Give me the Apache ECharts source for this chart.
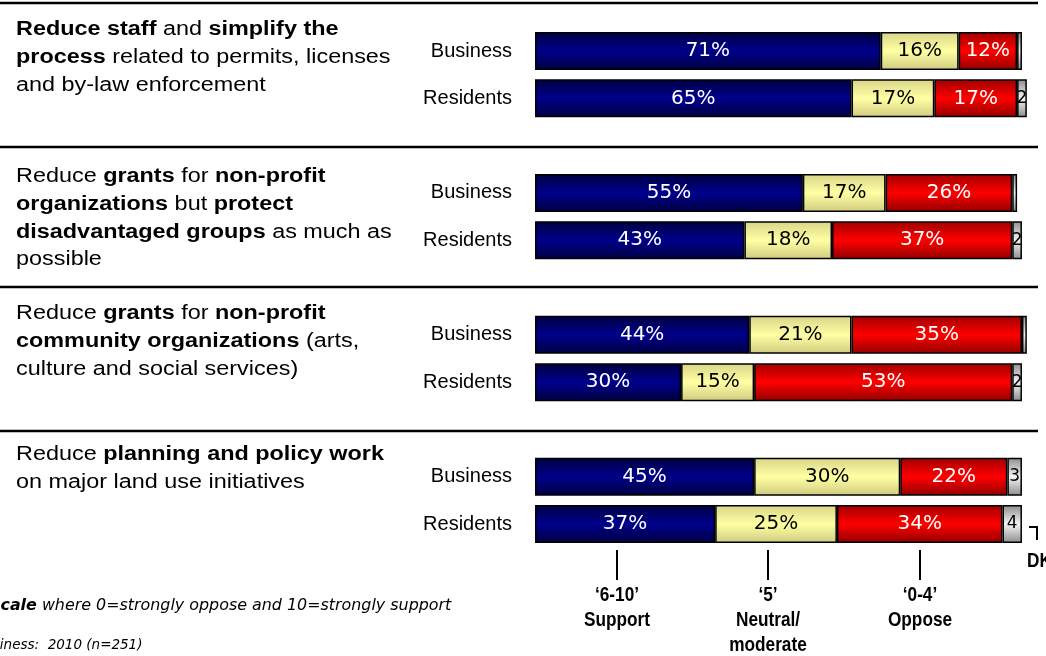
<!DOCTYPE html>
<html>
<head>
<meta charset="utf-8">
<script src="https://cdn.jsdelivr.net/npm/echarts@6/dist/echarts.min.js"></script>
<style>
html,body{margin:0;padding:0;background:#fff;}
#chart{width:1046px;height:656px;}
</style>
</head>
<body>
<div id="chart"></div>
<script>
// ---- data ----
var groupLabels = ['Business', 'Residents'];
var support = [71, 65, 55, 43, 44, 30, 45, 37];   // '6-10' Support
var neutral = [16, 17, 17, 18, 21, 15, 30, 25];   // '5' Neutral/moderate
var oppose  = [12, 17, 26, 37, 35, 53, 22, 34];   // '0-4' Oppose
var dk      = [1, 2, 1, 2, 1, 2, 3, 4];           // DK
var questions = [
  '{b|Reduce staff} and {b|simplify the}\n{b|process} related to permits, licenses\nand by-law enforcement',
  'Reduce {b|grants} for {b|non-profit}\n{b|organizations} but {b|protect}\n{b|disadvantaged groups} as much as\npossible',
  'Reduce {b|grants} for {b|non-profit}\n{b|community organizations} (arts,\nculture and social services)',
  'Reduce {b|planning and policy work}\non major land use initiatives'
];
var legendLabels = [['\u20186-10\u2019', 'Support'], ['\u20185\u2019', 'Neutral/', 'moderate'], ['\u20180-4\u2019', 'Oppose']];

// ---- build slots (two rows per question, a blank slot between questions) ----
function withGaps(arr) {
  var out = [];
  for (var i = 0; i < arr.length; i++) {
    out.push(arr[i]);
    if (i % 2 === 1 && i < arr.length - 1) out.push(null);
  }
  return out;
}
var cats = [];
for (var q = 0; q < questions.length; q++) {
  cats.push(groupLabels[0], groupLabels[1]);
  if (q < questions.length - 1) cats.push('');
}

var FONT = '"Liberation Sans", Arial, sans-serif';
var NUMFONT = '"DejaVu Sans", Verdana, sans-serif';

function grad(c0, c1, c2) {
  return new echarts.graphic.LinearGradient(0, 0, 0, 1, [
    {offset: 0, color: c0}, {offset: 0.5, color: c1}, {offset: 1, color: c2}
  ]);
}

function seg(name, data, color, textColor, isDk) {
  return {
    name: name, type: 'bar', stack: 'all', barWidth: 38,
    data: withGaps(data),
    itemStyle: {color: color, borderColor: '#000', borderWidth: 1.5},
    label: {
      show: true, position: 'inside', color: textColor,
      fontFamily: NUMFONT, fontSize: isDk ? 17 : 20,
      formatter: function (p) {
        if (p.value == null) return '';
        if (isDk) return p.value >= 2 ? String(p.value) : '';
        return p.value + '%';
      }
    },
    emphasis: {disabled: true},
    silent: true
  };
}

var graphics = [];
// separator lines
[3, 147, 287, 431].forEach(function (y) {
  graphics.push({type: 'line', shape: {x1: 0, y1: y, x2: 1038, y2: y}, style: {stroke: '#000', lineWidth: 2.5}});
});
// question texts
var qTops = [16, 163, 300, 441];
questions.forEach(function (t, i) {
  graphics.push({
    type: 'text', x: 16, y: qTops[i], scaleX: 1.17,
    style: {
      text: t, fill: '#000', fontFamily: FONT, fontSize: 20, lineHeight: 27.7,
      verticalAlign: 'top', align: 'left',
      rich: {b: {fontWeight: 'bold', fontFamily: FONT, fontSize: 20, lineHeight: 27.7}}
    }
  });
});
// legend ticks and labels
var legX = [617, 768, 920];
legendLabels.forEach(function (lines, i) {
  graphics.push({type: 'line', shape: {x1: legX[i], y1: 550, x2: legX[i], y2: 580}, style: {stroke: '#000', lineWidth: 2}});
  lines.forEach(function (s, j) {
    graphics.push({
      type: 'text', x: legX[i], y: 595 + j * 25, scaleX: 0.82,
      style: {text: s, fill: '#000', fontFamily: FONT, fontSize: 21, fontWeight: 'bold',
              align: 'center', verticalAlign: 'middle'}
    });
  });
});
// DK bracket
graphics.push({type: 'polyline', shape: {points: [[1029, 527], [1037, 527], [1037, 540]]}, style: {stroke: '#000', lineWidth: 2, fill: null}});
graphics.push({type: 'text', x: 1027, y: 561, scaleX: 0.82, style: {text: 'DK', fill: '#000', fontFamily: FONT, fontSize: 21, fontWeight: 'bold', align: 'left', verticalAlign: 'middle'}});
// footnotes
graphics.push({
  type: 'text', x: -9, y: 606,
  style: {
    text: '{b|scale} where 0=strongly oppose and 10=strongly support',
    fill: '#000', fontFamily: NUMFONT, fontSize: 15.9, fontStyle: 'italic', verticalAlign: 'middle', align: 'left',
    rich: {b: {fontWeight: 'bold', fontStyle: 'italic', fontFamily: NUMFONT, fontSize: 15.9}}
  }
});
graphics.push({
  type: 'text', x: -25, y: 645,
  style: {text: 'Business:  2010 (n=251)', fill: '#000', fontFamily: NUMFONT, fontSize: 13.5, fontStyle: 'italic',
          verticalAlign: 'middle', align: 'left'}
});

var chart = echarts.init(document.getElementById('chart'), null, {renderer: 'canvas'});
chart.setOption({
  backgroundColor: '#fff',
  animation: false,
  grid: {left: 535, top: 27.4, width: 496.7, height: 520.3, containLabel: false},
  xAxis: {type: 'value', min: 0, max: 102, show: false},
  yAxis: {
    type: 'category', data: cats, inverse: true,
    axisLine: {show: false}, axisTick: {show: false}, splitLine: {show: false},
    axisLabel: {color: '#000', fontFamily: FONT, fontSize: 20, margin: 23}
  },
  series: [
    seg("'6-10' Support", support, grad('#000040', '#00008c', '#000040'), '#fff', false),
    seg("'5' Neutral/moderate", neutral, grad('#d8d488', '#ffffa4', '#cfcb80'), '#000', false),
    seg("'0-4' Oppose", oppose, grad('#a00000', '#ff0000', '#900000'), '#fff', false),
    seg('DK', dk, grad('#8c8c8c', '#f4f4f4', '#8c8c8c'), '#000', true)
  ],
  graphic: graphics
});
</script>
</body>
</html>
